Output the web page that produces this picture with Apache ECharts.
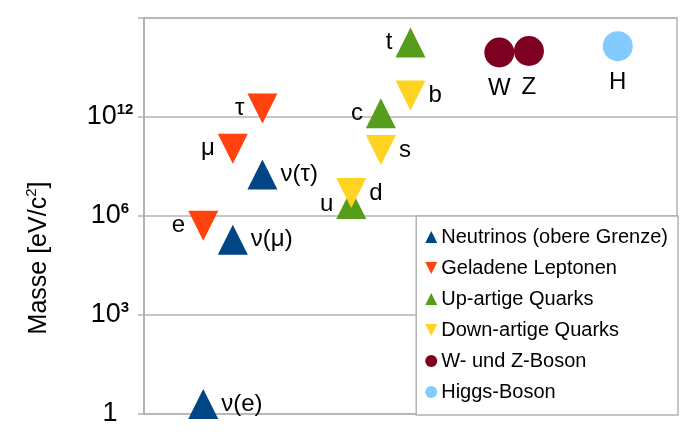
<!DOCTYPE html>
<html>
<head>
<meta charset="utf-8">
<title>Massen der Elementarteilchen</title>
<script src="https://cdn.jsdelivr.net/npm/echarts@6/dist/echarts.min.js"></script>
<style>
  html, body { margin: 0; padding: 0; background: #fff; }
  #chart { width: 700px; height: 444px; }
</style>
</head>
<body>
<div id="chart"></div>
<script>
// Daten (Masse in eV, x = Spalte im Diagramm)
var seriesNames = ['Neutrinos (obere Grenze)', 'Geladene Leptonen', 'Up-artige Quarks',
                   'Down-artige Quarks', 'W- und Z-Boson', 'Higgs-Boson'];
var seriesColors = ['#004586', '#ff420e', '#579d1c', '#ffd320', '#7e0021', '#83caff'];

var neutrinoNames = ['ν(e)', 'ν(μ)', 'ν(τ)'];
var neutrinoX = [2, 3, 4];
var neutrinoMass = [2, 1.9e5, 1.8e7];

var leptonNames = ['e', 'μ', 'τ'];
var leptonX = [2, 3, 4];
var leptonMass = [5.1e5, 1.1e8, 1.8e9];

var upNames = ['u', 'c', 't'];
var upX = [7, 8, 9];
var upMass = [2.3e6, 1.3e9, 1.8e11];

var downNames = ['d', 's', 'b'];
var downX = [7, 8, 9];
var downMass = [5e6, 1e8, 4.5e9];

var wzNames = ['W', 'Z'];
var wzX = [12, 13];
var wzMass = [9e10, 1e11];

var higgsNames = ['H'];
var higgsX = [16];
var higgsMass = [1.4e11];

// Achsenbeschriftung (so wie im Original)
var tickValues = [1, 1e3, 1e6, 1e9, 1e12];
var tickLabels = ['{b|1}', '{b|10}{s|3}', '{b|10}{s|6}', '{b|10}{s|12}', ''];

var downTriangle = 'path://M0,0 L10,0 L5,10 Z';

function points(names, xs, masses, pos) {
    return names.map(function (n, i) {
        return {
            name: n,
            value: [xs[i], masses[i]],
            label: { position: pos[i], distance: pos[i] === 'bottom' ? 9 : 3 }
        };
    });
}

var labelStyle = {
    show: true,
    formatter: '{b}',
    fontFamily: 'Liberation Sans',
    fontSize: 24,
    color: '#000'
};

function makeSeries(idx, data, symbol, rotate) {
    return {
        name: seriesNames[idx],
        type: 'scatter',
        symbol: symbol,
        symbolRotate: rotate,
        symbolSize: 30,
        itemStyle: { color: seriesColors[idx], opacity: 1 },
        label: labelStyle,
        emphasis: { disabled: true },
        data: data
    };
}

var chart = echarts.init(document.getElementById('chart'));

var option = {
    animation: false,
    grid: {
        left: 144, right: 23, top: 18, bottom: 30,
        show: true, borderColor: '#b3b3b3', borderWidth: 1.5
    },
    xAxis: {
        type: 'value',
        min: 0,
        max: 18,
        show: false
    },
    yAxis: {
        type: 'log',
        logBase: 1000,
        min: 1,
        max: 1e12,
        name: '{n|Masse [eV/c}{s|2}{n|]}',
        nameLocation: 'middle',
        nameRotate: 90,
        nameGap: 90,
        nameTextStyle: {
            padding: [0, 84, 0, 0],
            rich: {
                n: { fontFamily: 'Liberation Sans', fontSize: 25, color: '#000', lineHeight: 30 },
                s: { fontFamily: 'Liberation Sans', fontSize: 15, color: '#000', verticalAlign: 'top', lineHeight: 16 }
            }
        },
        axisLine: { show: true, lineStyle: { color: '#b3b3b3', width: 2 } },
        axisTick: { show: true, length: 6, lineStyle: { color: '#b3b3b3', width: 1.5 } },
        splitLine: { show: true, lineStyle: { color: '#b3b3b3', width: 1.5 } },
        axisLabel: {
            margin: 34,
            align: 'center',
            formatter: function (v) {
                var k = tickValues.indexOf(v);
                return k >= 0 ? tickLabels[k] : '';
            },
            rich: {
                b: { fontFamily: 'Liberation Sans', fontSize: 27, color: '#000', lineHeight: 30 },
                s: { fontFamily: 'Liberation Sans', fontSize: 15, color: '#000', fontWeight: 'bold', verticalAlign: 'top', lineHeight: 16 }
            }
        }
    },
    legend: {
        orient: 'vertical',
        right: 22,
        bottom: 29,
        padding: [11, 10, 13, 9],
        itemWidth: 12,
        itemHeight: 12,
        itemGap: 11,
        backgroundColor: '#fff',
        borderColor: '#b3b3b3',
        borderWidth: 1.5,
        textStyle: { fontFamily: 'Liberation Sans', fontSize: 20, color: '#000', padding: [0, 0, 0, -1] },
        data: [
            { name: seriesNames[0], icon: 'triangle' },
            { name: seriesNames[1], icon: downTriangle },
            { name: seriesNames[2], icon: 'triangle' },
            { name: seriesNames[3], icon: downTriangle },
            { name: seriesNames[4], icon: 'circle' },
            { name: seriesNames[5], icon: 'circle' }
        ]
    },
    series: [
        makeSeries(0, points(neutrinoNames, neutrinoX, neutrinoMass, ['right', 'right', 'right']), 'triangle', 0),
        makeSeries(1, points(leptonNames, leptonX, leptonMass, ['left', 'left', 'left']), 'triangle', 180),
        makeSeries(2, points(upNames, upX, upMass, ['left', 'left', 'left']), 'triangle', 0),
        makeSeries(3, points(downNames, downX, downMass, ['right', 'right', 'right']), 'triangle', 180),
        makeSeries(4, points(wzNames, wzX, wzMass, ['bottom', 'bottom']), 'circle', 0),
        makeSeries(5, points(higgsNames, higgsX, higgsMass, ['bottom']), 'circle', 0)
    ]
};

chart.setOption(option);
</script>
</body>
</html>
